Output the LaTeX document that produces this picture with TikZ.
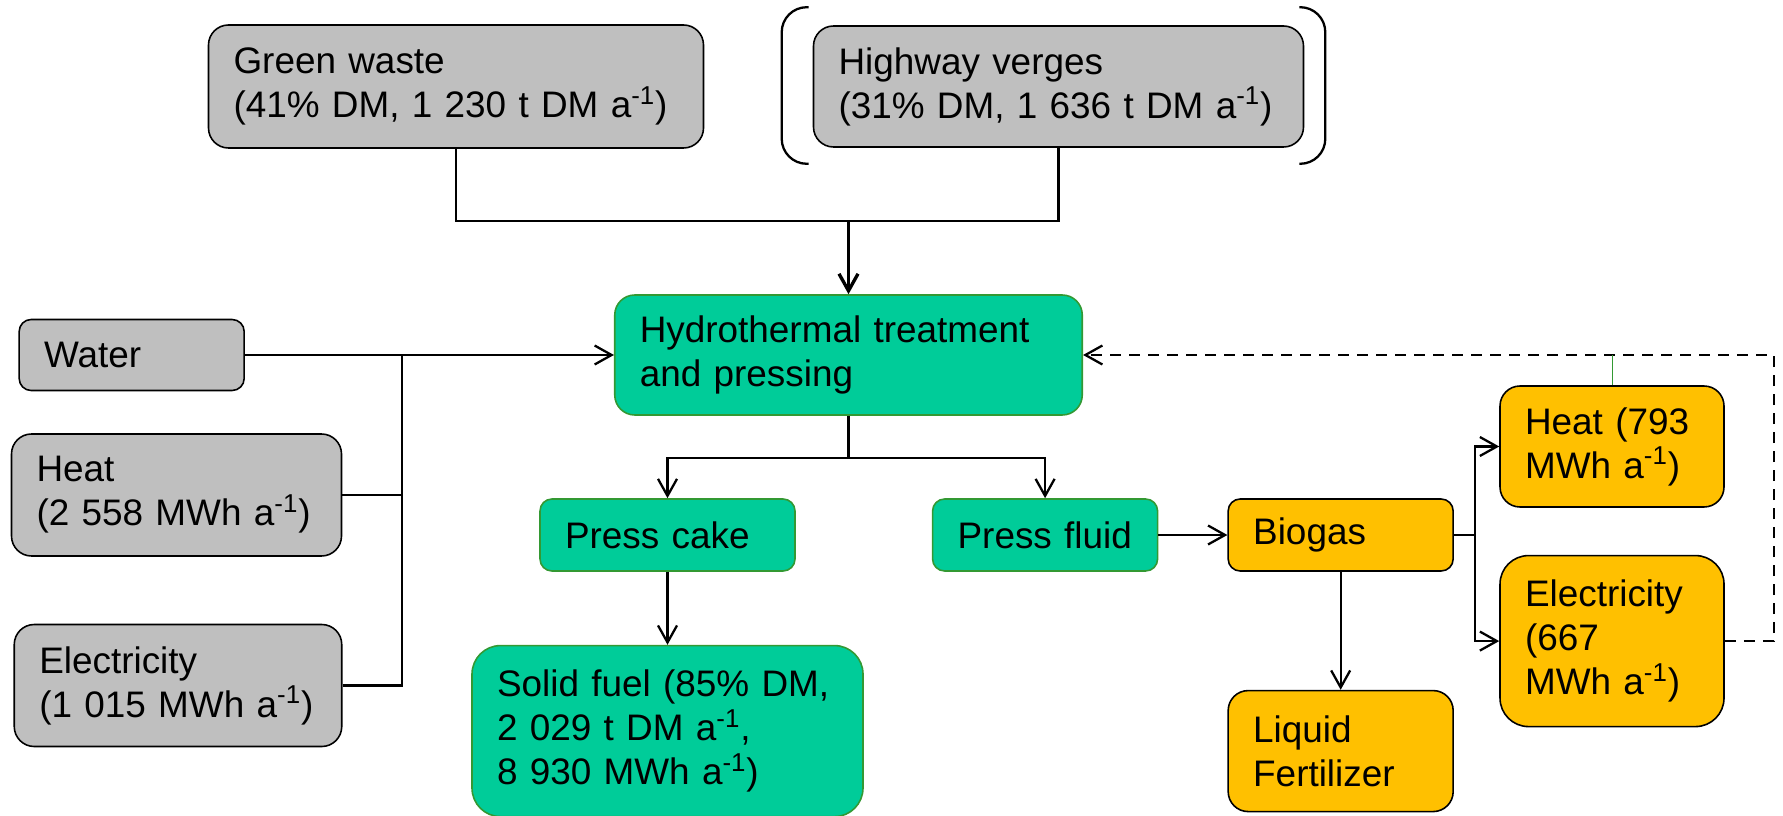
\documentclass[tikz,border=0pt]{standalone}
\usepackage{fontspec}
\setmainfont{Liberation Sans}
\usetikzlibrary{positioning, arrows.meta, calc}
\definecolor{hgray}{HTML}{BFBFBF}
\definecolor{hgreen}{HTML}{00CC99}
\definecolor{hgreenedge}{HTML}{339933}
\definecolor{horange}{HTML}{FFC000}

\begin{document}
\begin{tikzpicture}[
    box/.style={draw, line width=0.9pt, rounded corners=0.4cm, align=left, inner xsep=0.5cm, inner ysep=0.1cm, font=\fontsize{21}{25}\selectfont},
    srcbox/.style={box, fill=hgray, draw=black},
    procbox/.style={box, fill=hgreen, draw=hgreenedge},
    outbox/.style={box, fill=horange, draw=black},
    flow/.style={-{Straight Barb[length=0.34cm,width=0.38cm]}, line width=1.3pt},
    link/.style={line width=1.3pt}]
  \useasboundingbox (0,0) rectangle (35.66,-16.32);
  \node[procbox, text width=8.35cm, minimum height=2.4cm] (htc) at (16.97,-7.10) {Hydrothermal treatment\\and pressing};
  \node[srcbox, text width=8.9cm, minimum height=2.46cm] (gw) at (9.12,-1.73) {Green waste\\(41\% DM, 1 230 t DM a\textsuperscript{-1})};
  \node[srcbox, text width=8.8cm, minimum height=2.42cm] (hv) at (21.17,-1.73) {Highway verges\\(31\% DM, 1 636 t DM a\textsuperscript{-1})};
  \node[srcbox, text width=3.5cm, minimum height=1.42cm, rounded corners=0.24cm, left=7.38cm of htc] (water) {Water};
  \node[srcbox, text width=5.6cm, minimum height=2.44cm] (heatin) at (3.53,-9.90) {Heat\\(2 558 MWh a\textsuperscript{-1})};
  \node[srcbox, text width=5.55cm, minimum height=2.44cm] (elecin) at (3.56,-13.71) {Electricity\\(1 015 MWh a\textsuperscript{-1})};
  \node[procbox, text width=4.1cm, minimum height=1.44cm, rounded corners=0.24cm] (cake) at (13.35,-10.70) {Press cake};
  \node[procbox, text width=3.5cm, minimum height=1.44cm, rounded corners=0.24cm, right=2.72cm of cake] (fluid) {Press fluid};
  \node[outbox, text width=3.5cm, minimum height=1.44cm, rounded corners=0.24cm, right=1.38cm of fluid] (biogas) {Biogas};
  \node[outbox, text width=3.5cm, minimum height=2.42cm, below=2.36cm of biogas] (fert) {Liquid\\Fertilizer};
  \node[procbox, text width=6.82cm, minimum height=3.42cm, rounded corners=0.57cm, below=1.46cm of cake] (fuel) {Solid fuel (85\% DM,\\2 029 t DM a\textsuperscript{-1},\\8 930 MWh a\textsuperscript{-1})};
  \node[outbox, text width=3.48cm, minimum height=2.42cm] (heatout) at (32.24,-8.93) {Heat (793\\MWh a\textsuperscript{-1})};
  \node[outbox, text width=3.48cm, minimum height=3.42cm, rounded corners=0.57cm, below=0.94cm of heatout] (elecout) {Electricity\\(667\\MWh a\textsuperscript{-1})};
  \draw[link, rounded corners=0.5cm] ($(hv.north west)+(-0.08,0.36)$) -- ++(-0.54,0) |- ($(hv.south west)+(-0.08,-0.32)$);
  \draw[link, rounded corners=0.5cm] ($(hv.north east)+(-0.1,0.36)$) -- ++(0.52,0) |- ($(hv.south east)+(-0.1,-0.32)$);
  \coordinate[above=1.46cm of htc.north] (merge);
  \draw[link] (gw.south) |- (merge);
  \draw[link] (hv.south) |- (merge);
  \draw[flow, line width=1.9pt] (merge) -- (htc.north);
  \coordinate (bus) at (8.04,-7.10);
  \draw[flow] (water) -- (htc);
  \draw[link] (heatin.east) -- (heatin.east -| bus);
  \draw[link] (elecin.east) -| (bus);
  \coordinate[below=0.85cm of htc.south] (split);
  \draw[flow] (htc.south) -- (split) -| (cake.north);
  \draw[flow] (split) -| (fluid.north);
  \draw[flow] (cake) -- (fuel);
  \draw[flow] (fluid) -- (biogas);
  \draw[flow] (biogas) -- (fert);
  \coordinate[right=0.42cm of biogas.east] (fork);
  \draw[link] (biogas.east) -- (fork);
  \draw[flow] (fork) |- (heatout.west);
  \draw[flow] (fork) |- (elecout.west);
  \coordinate[right=0.98cm of elecout.east] (loop);
  \draw[flow, dash pattern=on 0.22cm off 0.16cm] (elecout.east) -- (loop) |- (htc.east);
  \draw[hgreenedge, line width=0.6pt] (heatout.north) -- (heatout.north |- htc.east);
\end{tikzpicture}
\end{document}
